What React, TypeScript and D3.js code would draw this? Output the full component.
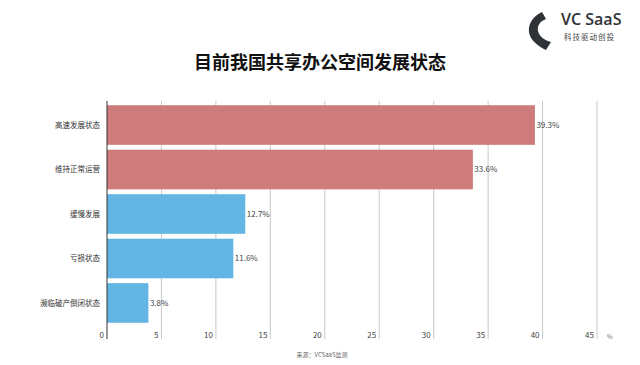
import React, { useEffect, useRef } from 'react';
import * as d3 from 'd3';

// chart data
const categories = ['高速发展状态', '维持正常运营', '缓慢发展', '亏损状态', '濒临破产倒闭状态'];
const values = [39.3, 33.6, 12.7, 11.6, 3.8];
const barColors = ['#cd7b7b', '#cd7b7b', '#63b5e4', '#63b5e4', '#63b5e4'];
const xTicks = [0, 5, 10, 15, 20, 25, 30, 35, 40, 45];

const FONT = '"Noto Sans CJK SC", "Noto Sans", sans-serif';

const App: React.FC = () => {
  const ref = useRef<SVGSVGElement>(null);

  useEffect(() => {
    if (!ref.current) return;
    const svg = d3.select(ref.current);
    svg.selectAll('*').remove();

    const x = d3.scaleLinear().domain([0, 45]).range([107, 597]);
    const y = d3.scaleBand().domain(categories).range([103, 325]).paddingInner(0.11).paddingOuter(0.05);

    // gridlines
    svg.append('g')
      .selectAll('line')
      .data(xTicks.slice(1))
      .join('line')
      .attr('x1', d => x(d))
      .attr('x2', d => x(d))
      .attr('y1', 101)
      .attr('y2', 339)
      .attr('stroke', '#c8c8c8')
      .attr('stroke-width', 1);

    // tick labels
    svg.append('g')
      .selectAll('text')
      .data(xTicks)
      .join('text')
      .attr('x', d => x(d) - 3)
      .attr('y', 338)
      .attr('text-anchor', 'end')
      .attr('font-size', 8)
      .attr('fill', '#444')
      .attr('font-family', FONT)
      .text(d => d);

    svg.append('text')
      .attr('x', 607)
      .attr('y', 339)
      .attr('font-size', 6)
      .attr('fill', '#666')
      .attr('font-family', FONT)
      .text('%');

    // bars
    svg.append('g')
      .selectAll('rect')
      .data(values)
      .join('rect')
      .attr('x', x(0))
      .attr('y', (_, i) => y(categories[i]) || 0)
      .attr('width', d => x(d) - x(0))
      .attr('height', y.bandwidth())
      .attr('fill', (_, i) => barColors[i]);

    // value labels
    svg.append('g')
      .selectAll('text')
      .data(values)
      .join('text')
      .attr('x', d => x(d) + 1.5)
      .attr('y', (_, i) => (y(categories[i]) || 0) + y.bandwidth() / 2)
      .attr('dy', '0.35em')
      .attr('font-size', 8)
      .attr('fill', '#444')
      .attr('font-family', FONT)
      .text(d => `${d}%`);

    // category labels
    svg.append('g')
      .selectAll('text')
      .data(categories)
      .join('text')
      .attr('x', 100)
      .attr('y', d => (y(d) || 0) + y.bandwidth() / 2)
      .attr('dy', '0.35em')
      .attr('text-anchor', 'end')
      .attr('font-size', 7.5)
      .attr('fill', '#333')
      .attr('font-family', FONT)
      .text(d => d);

    // axis line
    svg.append('line')
      .attr('x1', x(0))
      .attr('x2', x(0))
      .attr('y1', 101)
      .attr('y2', 339)
      .attr('stroke', '#333')
      .attr('stroke-width', 1);

    // title
    svg.append('text')
      .attr('x', 320)
      .attr('y', 69)
      .attr('text-anchor', 'middle')
      .attr('font-size', 18)
      .attr('font-weight', 'bold')
      .attr('fill', '#111')
      .attr('font-family', FONT)
      .text('目前我国共享办公空间发展状态');

    // source
    svg.append('text')
      .attr('x', 322)
      .attr('y', 357)
      .attr('text-anchor', 'middle')
      .attr('font-size', 6)
      .attr('fill', '#666')
      .attr('font-family', FONT)
      .text('来源：VCSaaS监测');

    // logo
    const logo = svg.append('g');
    logo.append('path')
      .attr('d', 'M542,12 C533,16 528,24 529,32 C530,40 538,46 546,50 L551,42 C544,40 539,36 538,31 C537,26 540,21 546,19 Z')
      .attr('fill', '#2f3236');
    logo.append('text')
      .attr('x', 561)
      .attr('y', 25)
      .attr('font-size', 16)
      .attr('font-weight', 600)
      .attr('fill', '#2f3236')
      .attr('font-family', '"Open Sans", "Noto Sans", sans-serif')
      .text('VC SaaS');
    logo.append('text')
      .attr('x', 564)
      .attr('y', 40)
      .attr('font-size', 7.5)
      .attr('letter-spacing', 1)
      .attr('fill', '#444')
      .attr('font-family', FONT)
      .text('科技驱动创投');
  }, []);

  return (
    <svg ref={ref} width={640} height={365} style={{ position: 'absolute', left: 0, top: 0, background: '#fff' }} />
  );
};

export default App;
